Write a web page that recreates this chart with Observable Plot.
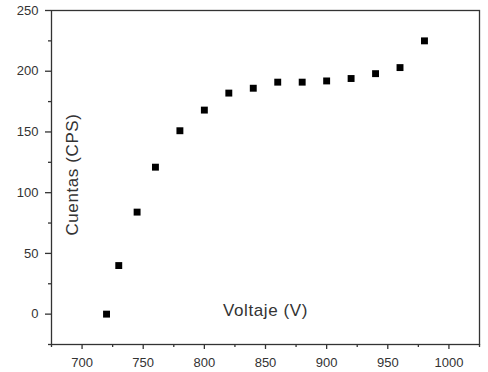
<!DOCTYPE html>
<html>
<head>
<meta charset="utf-8">
<script src="https://cdn.jsdelivr.net/npm/d3@7"></script>
<script src="https://cdn.jsdelivr.net/npm/@observablehq/plot@0.6"></script>
<style>
  html, body { margin: 0; padding: 0; background: #fff; }
  svg { font-family: "Liberation Sans", Arial, sans-serif; }
</style>
</head>
<body>
<div id="chart"></div>
<script>
const voltaje = [720, 730, 745, 760, 780, 800, 820, 840, 860, 880, 900, 920, 940, 960, 980];
const cuentas = [0, 40, 84, 121, 151, 168, 182, 186, 191, 191, 192, 194, 198, 203, 225];
const xTicks = [700, 750, 800, 850, 900, 950, 1000];
const xMinor = [675, 725, 775, 825, 875, 925, 975, 1025];
const yTicks = [0, 50, 100, 150, 200, 250];
const yMinor = [-25, 25, 75, 125, 175, 225];
const xLabel = "Voltaje (V)";
const yLabel = "Cuentas (CPS)";

const data = voltaje.map((v, i) => ({v, c: cuentas[i]}));
const ink = "#333";
const fmt = d => String(d);

const chart = Plot.plot({
  width: 488,
  height: 372,
  marginLeft: 51,
  marginRight: 9,
  marginTop: 10,
  marginBottom: 28,
  x: {domain: [675, 1025]},
  y: {domain: [-25, 250]},
  marks: [
    Plot.frame({stroke: ink, strokeWidth: 1.3}),
    Plot.axisX({ticks: xTicks, tickFormat: fmt, tickSize: 5, tickPadding: 8, fontSize: 13, color: ink, label: null, strokeWidth: 1.3}),
    Plot.axisX({ticks: xMinor, tickSize: 3, text: null, label: null, stroke: ink, strokeWidth: 1.3}),
    Plot.axisY({ticks: yTicks, tickFormat: fmt, tickSize: 6, tickPadding: 7, fontSize: 13, color: ink, label: null, strokeWidth: 1.3}),
    Plot.axisY({ticks: yMinor, tickSize: 3, text: null, label: null, stroke: ink, strokeWidth: 1.3}),
    Plot.dot(data, {x: "v", y: "c", symbol: "square", r: 3.9, fill: "#000", stroke: "none"}),
    Plot.text([xLabel], {text: d => d, frameAnchor: "bottom", dy: -29, fontSize: 17, fill: ink}),
    Plot.text([yLabel], {text: d => d, frameAnchor: "left", textAnchor: "middle", rotate: -90, dx: 21, dy: -3, fontSize: 17, fill: ink})
  ]
});

d3.select(chart).selectAll("text")
  .filter(function() { return this.textContent === xLabel || this.textContent === yLabel; })
  .attr("letter-spacing", "0.6px");

document.getElementById("chart").appendChild(chart);
</script>
</body>
</html>
